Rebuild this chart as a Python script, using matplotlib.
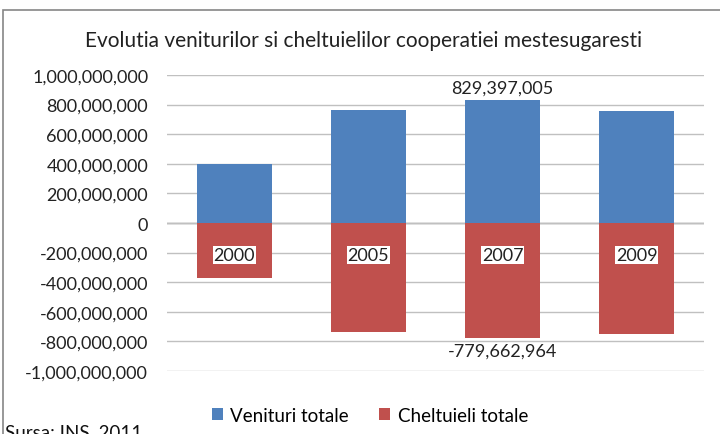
import matplotlib.pyplot as plt
from matplotlib.patches import Rectangle
from matplotlib.ticker import FuncFormatter

years = ['2000', '2005', '2007', '2009']
venituri = [400000000, 763000000, 829397005, 755000000]
cheltuieli = [-372000000, -736000000, -779662964, -748000000]

plt.rcParams['font.family'] = ['Lato', 'DejaVu Sans']
txt = '#222222'

fig = plt.figure(figsize=(7.2, 4.35), dpi=100)
ax = fig.add_axes([0.2319, 0.1448, 0.7459, 0.6805])

x = range(len(years))
ax.bar(x, venituri, width=0.56, color='#4F81BD', zorder=2, label='Venituri totale')
ax.bar(x, cheltuieli, width=0.56, color='#C0504D', zorder=2, label='Cheltuieli totale')

ax.set_xlim(-0.5, 3.5)
ax.set_ylim(-1e9, 1e9)
ax.set_yticks(range(-1000000000, 1000000001, 200000000))
ax.yaxis.set_major_formatter(FuncFormatter(lambda v, p: '{:,.0f}'.format(v)))
ax.tick_params(axis='y', length=0, labelsize=13, pad=13.5, colors=txt)
ax.set_xticks([])
ax.grid(axis='y', color='#c0c0c0', linewidth=1, zorder=0)
ax.axhline(0, color='#868686', linewidth=1, zorder=1)
for s in ax.spines.values():
    s.set_visible(False)

# year labels on the category axis
for i, yr in enumerate(years):
    ax.text(i, -215000000, yr, ha='center', va='center', fontsize=13, color=txt,
            bbox=dict(facecolor='white', edgecolor='none', pad=0.5), zorder=3)

# data labels for 2007
ax.text(2, venituri[2] + 30000000, '{:,}'.format(venituri[2]), ha='center', va='bottom',
        fontsize=13, color=txt)
ax.text(2, cheltuieli[2] - 30000000, '{:,}'.format(cheltuieli[2]), ha='center', va='top',
        fontsize=13, color=txt)

fig.text(0.505, 0.905, 'Evolutia veniturilor si cheltuielilor cooperatiei mestesugaresti',
         ha='center', va='center', fontsize=15, color=txt)

ax.legend(loc='center', bbox_to_anchor=(0.378, -0.15), ncol=2, frameon=False,
          fontsize=13.5, handlelength=0.6, handleheight=0.6, columnspacing=1.6,
          handletextpad=0.4, borderpad=0)

# chart border (cut off at right and bottom)
fig.patches.append(Rectangle((0.004, -0.1), 1.2, 1.074, transform=fig.transFigure,
                             fill=False, edgecolor='#868686', linewidth=1.2))

fig.text(0.007, -0.014, 'Sursa: INS, 2011', ha='left', va='bottom', fontsize=13.5, color='#111111')

fig.savefig('out.png', dpi=100)
